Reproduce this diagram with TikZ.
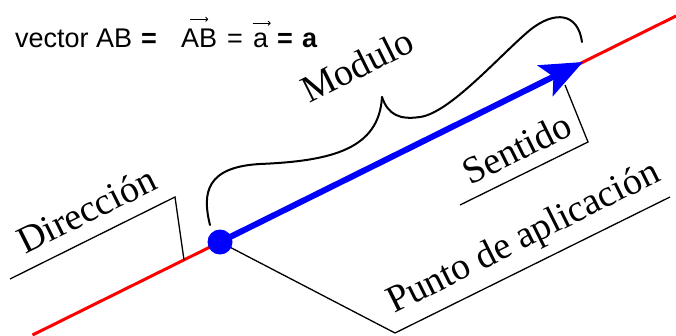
\documentclass[tikz,border=0pt]{standalone}
\usepackage{fontspec}
\setmainfont{Liberation Serif}
\newfontfamily\sansf{Liberation Sans}
\usetikzlibrary{arrows.meta,calc}
\begin{document}
\begin{tikzpicture}[x=1pt,y=1pt,
  lbl/.style={font=\fontsize{38}{42}\selectfont, rotate=26.5, anchor=base west, inner sep=0pt},
  leader/.style={line width=1.3pt, line join=miter},
  toptext/.style={font=\sansf\fontsize{27}{30}\selectfont, anchor=base west, inner sep=0pt},
  vecarrow/.style={line width=0.8pt, -{To[length=3pt,width=5pt]}}]
\useasboundingbox (0,0) rectangle (676,335);
% points
\coordinate (A) at (220,93);
\coordinate (tip) at (583,273);
\coordinate (r0) at (32.5,0);
\coordinate (r1) at (676,319);
% red line of action
\draw[red, line width=3pt] (r0) -- (r1);
% leaders
\coordinate (d1) at (10,56);
\coordinate (d2) at (175,138);
\coordinate (d3) at (184,75);
\draw[leader] (d1) -- (d2) -- (d3);
\coordinate (s1) at (460,130);
\coordinate (s2) at (588,193);
\coordinate (s3) at (565,250);
\draw[leader] (s1) -- (s2) -- (s3);
\coordinate (p2) at (395,2);
\coordinate (p3) at (670,138);
\draw[leader] (A) -- (p2) -- (p3);
% vector
\draw[blue, line width=6pt, -{Stealth[length=42pt,width=34pt,inset=9pt]}] (A) -- (tip);
\node[circle, fill=blue, minimum size=25pt, inner sep=0pt] (dot) at (A) {};
% brace
\draw[line width=2pt, line cap=round]
  (210,110) .. controls (202,142) and (206,168) .. (260,171)
  .. controls (332,174) and (379,186) .. (382,238);
\draw[line width=2pt, line cap=round]
  (382,238) .. controls (388,220) and (400,215) .. (420,218)
  .. controls (450,222) and (500,280) .. (530,305)
  .. controls (555,325) and (578,322) .. (582,293);
% labels
\node[lbl] (ldir) at (25,80) {Dirección};
\node[lbl] (lsen) at (470,149) {Sentido};
\node[lbl] (lpun) at (394,21) {Punto de aplicación};
\node[lbl] (lmod) at (309,231) {Modulo};
% top formula
\node[toptext] (t1) at (15,287) {vector AB};
\node[toptext] (t2) at (141,287) {\textbf{=}};
\node[toptext] (t3) at (181,287) {AB};
\node[toptext] (t4) at (227,287) {=};
\node[toptext] (t5) at (253,287) {a};
\node[toptext] (t6) at (277,287) {\textbf{=}};
\node[toptext] (t7) at (302,287) {\textbf{a}};
\draw[vecarrow] ($(t3.north)+(-9,10)$) -- ++(18,0);
\draw[vecarrow] ($(t5.north)+(-8,10)$) -- ++(18,0);
\end{tikzpicture}
\end{document}
